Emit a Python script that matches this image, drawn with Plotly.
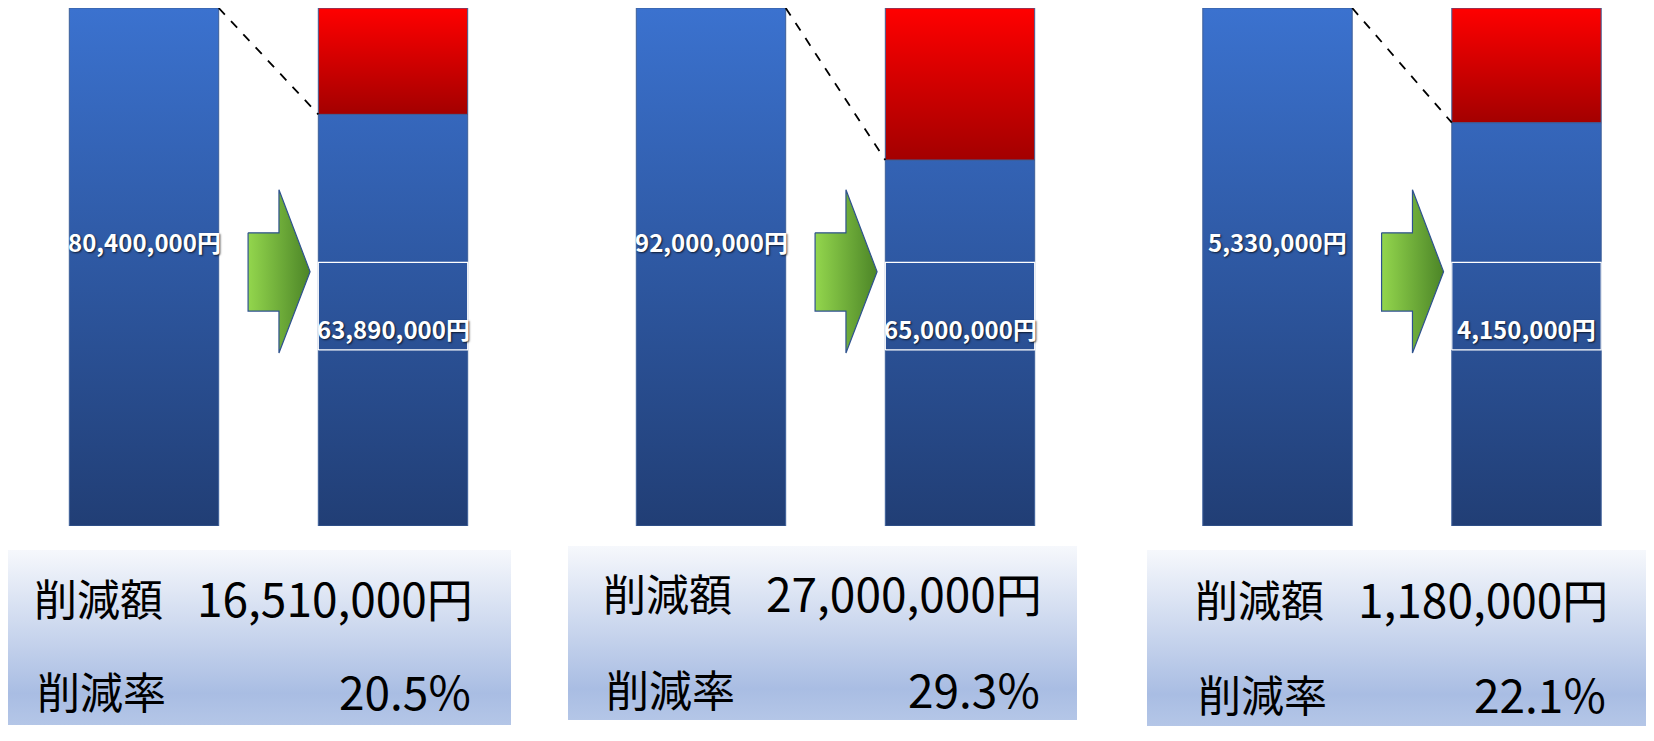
import plotly.graph_objects as go

# values
before_yen = [80400000, 92000000, 5330000]
after_yen = [63890000, 65000000, 4150000]
reduction_yen = [16510000, 27000000, 1180000]
reduction_pct = [20.5, 29.3, 22.1]
amount_label = "削減額"
rate_label = "削減率"

W, H = 1654, 741
OFF = 8  # the page body margin shifts the plot by 8px
FONT = "Noto Sans CJK JP"
blue_scale = [[0, "#213e75"], [1, "#3b72cf"]]
red_scale = [[0, "#a30000"], [1, "#ff0000"]]
green_scale = [[0, "#93d64d"], [1, "#4c8527"]]
box_scale = [[0, "#b4c6e7"], [0.18, "#a9bde3"], [1, "#f6f8fc"]]

# layout of the three panels (pixels in the reference)
centers_px = [144, 711, 1277.5]
unit_px = 249
x_lo, x_hi = -0.5, 1.45
y_dom_px = (526, 5)
box_px = [(0, 511, 550, 725), (568, 1077, 546, 720), (1147, 1654, 550, 726)]
text_px = [(32, 475, 597, 690), (601, 1044, 592, 688), (1193, 1610, 598, 693)]


def rect(x0, x1, y0, y1):
    return [x0, x1, x1, x0, x0], [y0, y0, y1, y1, y0]


def px(x):
    return min(max((x - OFF) / (W - 2 * OFF), 0), 1)


def py(y):
    return min(max(1 - (y - OFF) / (H - 2 * OFF), 0), 1)


fig = go.Figure()
annotations = []

for i, (b, a) in enumerate(zip(before_yen, after_yen)):
    xr = "x" if i == 0 else f"x{i + 1}"
    yr = "y" if i == 0 else f"y{i + 1}"
    edge = dict(color="#3d5f99", width=1)

    # before bar
    xs, ys = rect(-0.3, 0.3, 0, b)
    fig.add_trace(go.Scatter(x=xs, y=ys, xaxis=xr, yaxis=yr, mode="lines", fill="toself",
                             line=edge, fillgradient=dict(type="vertical", colorscale=blue_scale, start=0, stop=b)))
    # after bar (blue) + reduction (red)
    xs, ys = rect(0.7, 1.3, 0, a)
    fig.add_trace(go.Scatter(x=xs, y=ys, xaxis=xr, yaxis=yr, mode="lines", fill="toself",
                             line=edge, fillgradient=dict(type="vertical", colorscale=blue_scale, start=0, stop=b)))
    xs, ys = rect(0.7, 1.3, a, b)
    fig.add_trace(go.Scatter(x=xs, y=ys, xaxis=xr, yaxis=yr, mode="lines", fill="toself",
                             line=edge, fillgradient=dict(type="vertical", colorscale=red_scale, start=a, stop=b)))
    # dashed guide
    fig.add_trace(go.Scatter(x=[0.3, 0.7], y=[b, a], xaxis=xr, yaxis=yr, mode="lines",
                             line=dict(color="black", width=1.8, dash="dash")))
    # arrow
    ax = [0.418, 0.542, 0.542, 0.667, 0.542, 0.542, 0.418, 0.418]
    ay = [0.566, 0.566, 0.649, 0.491, 0.334, 0.415, 0.415, 0.566]
    fig.add_trace(go.Scatter(x=ax, y=[v * b for v in ay], xaxis=xr, yaxis=yr, mode="lines", fill="toself",
                             line=dict(color="#2f528f", width=1.2),
                             fillgradient=dict(type="horizontal", colorscale=green_scale, start=0.418, stop=0.667)))
    # white frame round the after label
    xs, ys = rect(0.7, 1.3, 0.340 * b, 0.509 * b)
    fig.add_trace(go.Scatter(x=xs, y=ys, xaxis=xr, yaxis=yr, mode="lines", line=dict(color="white", width=1.2)))

    lab_font = dict(family=FONT, size=24, color="white", weight=700, shadow="1px 1px 2px rgba(0,0,0,0.7)")
    annotations.append(dict(x=0, y=0.549 * b, xref=xr, yref=yr, xanchor="center", yanchor="middle",
                            text=f"{b:,}円", showarrow=False, font=lab_font))
    annotations.append(dict(x=1, y=0.382 * b, xref=xr, yref=yr, xanchor="center", yanchor="middle",
                            text=f"{a:,}円", showarrow=False, font=lab_font))

# summary boxes under each pair
for i in range(3):
    x0, x1, y0, y1 = box_px[i]
    xs, ys = rect(px(x0), px(x1), py(y1), py(y0))
    fig.add_trace(go.Scatter(x=xs, y=ys, xaxis="x4", yaxis="y4", mode="lines", fill="toself",
                             line=dict(width=0, color="rgba(0,0,0,0)"),
                             fillgradient=dict(type="vertical", colorscale=box_scale, start=py(y1), stop=py(y0))))
    lx, rx, ty, by = text_px[i]
    word = dict(family=FONT, size=43, color="black")
    num = dict(family=FONT, size=46, color="black")
    common = dict(xref="paper", yref="paper", yanchor="middle", showarrow=False)
    annotations += [
        dict(x=px(lx), y=py(ty), xanchor="left", text=amount_label, font=word, **common),
        dict(x=px(rx), y=py(ty), xanchor="right", text=f"{reduction_yen[i]:,}円", font=num, **common),
        dict(x=px(lx + 3), y=py(by), xanchor="left", text=rate_label, font=word, **common),
        dict(x=px(rx - 2), y=py(by), xanchor="right", text=f"{reduction_pct[i]}%", font=num, **common),
    ]

hidden = dict(visible=False, showgrid=False, zeroline=False, fixedrange=True)
layout = dict(
    width=W - 2 * OFF, height=H - 2 * OFF, margin=dict(l=0, r=0, t=0, b=0),
    paper_bgcolor="white", plot_bgcolor="rgba(0,0,0,0)",
    showlegend=False, hovermode=False, annotations=annotations,
    xaxis4=dict(domain=[0, 1], range=[0, 1], **hidden),
    yaxis4=dict(domain=[0, 1], range=[0, 1], anchor="x4", **hidden),
)
for i, b in enumerate(before_yen):
    sx = "" if i == 0 else str(i + 1)
    c = centers_px[i]
    layout[f"xaxis{sx}"] = dict(domain=[px(c + x_lo * unit_px), px(c + x_hi * unit_px)], range=[x_lo, x_hi],
                               anchor=f"y{sx}", **hidden)
    layout[f"yaxis{sx}"] = dict(domain=[py(y_dom_px[0]), py(y_dom_px[1])], range=[0, b], anchor=f"x{sx}", **hidden)
fig.update_layout(**layout)

fig.write_html("out.html")
